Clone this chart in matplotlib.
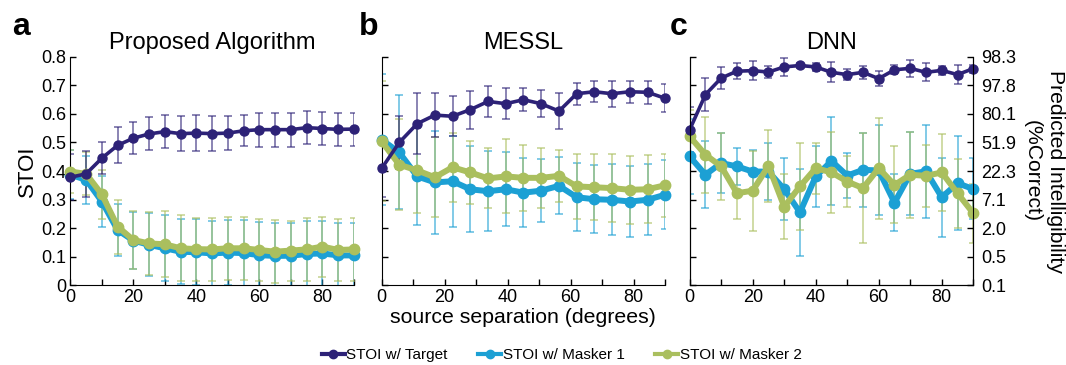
import numpy as np
import matplotlib
matplotlib.use('Agg')
import matplotlib.pyplot as plt
from matplotlib.ticker import MultipleLocator
from matplotlib.lines import Line2D

plt.rcParams['font.family'] = ['Liberation Sans', 'DejaVu Sans']

# Separación angular (grados)
x_ac = [0, 5, 10, 15, 20, 25, 30, 35, 40, 45, 50, 55, 60, 65, 70, 75, 80, 85, 90]
x_b = [0, 5.6, 11.3, 16.9, 22.5, 28.1, 33.8, 39.4, 45, 50.6, 56.3, 61.9, 67.5,
       73.1, 78.8, 84.4, 90]

# Panel a: Proposed Algorithm
a_target = [0.378, 0.39, 0.445, 0.49, 0.515, 0.53, 0.538, 0.531, 0.533, 0.531, 0.533,
            0.541, 0.545, 0.545, 0.545, 0.552, 0.549, 0.546, 0.547]
a_target_err = [0.08, 0.08, 0.055, 0.063, 0.057, 0.058, 0.057, 0.062, 0.063, 0.061, 0.06,
                0.055, 0.06, 0.06, 0.06, 0.058, 0.058, 0.059, 0.058]
a_m1 = [0.387, 0.369, 0.293, 0.193, 0.156, 0.141, 0.129, 0.117, 0.115, 0.111, 0.114,
        0.112, 0.105, 0.102, 0.103, 0.109, 0.111, 0.104, 0.104]
a_m1_err = [0.085, 0.085, 0.09, 0.09, 0.1, 0.11, 0.115, 0.115, 0.115, 0.115, 0.115,
            0.115, 0.115, 0.115, 0.115, 0.115, 0.115, 0.115, 0.115]
a_m2 = [0.398, 0.39, 0.318, 0.205, 0.158, 0.146, 0.143, 0.129, 0.126, 0.125, 0.129,
        0.129, 0.123, 0.117, 0.121, 0.125, 0.135, 0.123, 0.125]
a_m2_err = [0.075, 0.075, 0.085, 0.095, 0.1, 0.11, 0.115, 0.115, 0.11, 0.11, 0.11,
            0.11, 0.11, 0.11, 0.105, 0.11, 0.105, 0.11, 0.11]

# Panel b: MESSL
b_target = [0.409, 0.5, 0.566, 0.596, 0.592, 0.615, 0.644, 0.636, 0.65, 0.636, 0.61,
            0.671, 0.678, 0.671, 0.678, 0.676, 0.655]
b_target_err = [0.1, 0.094, 0.107, 0.076, 0.07, 0.067, 0.054, 0.055, 0.041, 0.048, 0.063,
                0.039, 0.036, 0.045, 0.039, 0.041, 0.049]
b_m1 = [0.51, 0.465, 0.381, 0.36, 0.364, 0.336, 0.329, 0.336, 0.324, 0.331, 0.348,
        0.308, 0.301, 0.299, 0.293, 0.299, 0.317]
b_m1_err = [0.23, 0.2, 0.17, 0.18, 0.16, 0.15, 0.14, 0.13, 0.12, 0.11, 0.1,
            0.12, 0.12, 0.125, 0.125, 0.125, 0.12]
b_m2 = [0.504, 0.422, 0.402, 0.378, 0.413, 0.395, 0.374, 0.381, 0.376, 0.376, 0.383,
        0.346, 0.343, 0.34, 0.334, 0.336, 0.35]
b_m2_err = [0.21, 0.16, 0.15, 0.14, 0.12, 0.11, 0.105, 0.13, 0.115, 0.105, 0.09,
            0.115, 0.115, 0.12, 0.12, 0.12, 0.11]

# Panel c: DNN
c_target = [0.545, 0.668, 0.726, 0.75, 0.752, 0.747, 0.765, 0.77, 0.765, 0.746, 0.738,
            0.746, 0.724, 0.755, 0.76, 0.746, 0.753, 0.738, 0.759]
c_target_err = [0.08, 0.057, 0.04, 0.028, 0.034, 0.02, 0.031, 0.01, 0.015, 0.035, 0.018,
                0.022, 0.026, 0.016, 0.029, 0.032, 0.015, 0.032, 0.014]
c_m1 = [0.451, 0.387, 0.428, 0.416, 0.398, 0.398, 0.336, 0.255, 0.381, 0.435, 0.384,
        0.404, 0.402, 0.289, 0.39, 0.399, 0.308, 0.357, 0.337]
c_m1_err = [0.13, 0.117, 0.105, 0.064, 0.076, 0.1, 0.108, 0.152, 0.107, 0.155, 0.08,
            0.129, 0.158, 0.1, 0.146, 0.164, 0.139, 0.164, 0.107]
c_m2 = [0.521, 0.457, 0.416, 0.322, 0.331, 0.418, 0.275, 0.346, 0.41, 0.395, 0.363,
        0.34, 0.41, 0.351, 0.387, 0.383, 0.395, 0.322, 0.252]
c_m2_err = [0.094, 0.134, 0.117, 0.09, 0.14, 0.126, 0.113, 0.153, 0.089, 0.142, 0.09,
            0.194, 0.177, 0.135, 0.151, 0.108, 0.136, 0.121, 0.104]

right_ticklabels = ['0.1', '0.5', '2.0', '7.1', '22.3', '51.9', '80.1', '97.8', '98.3']

titles = ['Proposed Algorithm', 'MESSL', 'DNN']
letters = ['a', 'b', 'c']
series_names = ['STOI w/ Target', 'STOI w/ Masker 1', 'STOI w/ Masker 2']

C_TARGET = '#2d2277'
C_M1 = '#1ca0d4'
C_M2 = '#aabf5e'

panels = [
    (x_ac, a_target, a_target_err, a_m1, a_m1_err, a_m2, a_m2_err),
    (x_b, b_target, b_target_err, b_m1, b_m1_err, b_m2, b_m2_err),
    (x_ac, c_target, c_target_err, c_m1, c_m1_err, c_m2, c_m2_err),
]

fig = plt.figure(figsize=(10.66, 3.65), dpi=100)
lefts = [0.066, 0.358, 0.647]
letter_x = [0.011, 0.337, 0.628]
width = 0.266
bottom, height = 0.219, 0.625

for i, (x, t, te, m1, m1e, m2, m2e) in enumerate(panels):
    ax = fig.add_axes([lefts[i], bottom, width, height])

    # barras de error (semitransparentes)
    for y, e, c in [(m1, m1e, C_M1), (m2, m2e, C_M2), (t, te, C_TARGET)]:
        ax.errorbar(x, y, yerr=e, fmt='none', ecolor=c, alpha=0.7,
                    elinewidth=1.1, capsize=3, capthick=1.1, zorder=2)
    # líneas
    ax.plot(x, m1, '-o', color=C_M1, lw=4.3, ms=7.5, zorder=3, clip_on=False)
    ax.plot(x, m2, '-o', color=C_M2, lw=4.3, ms=7.5, zorder=4, clip_on=False)
    ax.plot(x, t, '-o', color=C_TARGET, lw=2.6, ms=6.5, zorder=5, clip_on=False)

    ax.set_xlim(0, 90)
    ax.set_ylim(0, 0.8)
    ax.xaxis.set_major_locator(MultipleLocator(20))
    ax.xaxis.set_minor_locator(MultipleLocator(10))
    ax.yaxis.set_major_locator(MultipleLocator(0.1))
    ax.tick_params(direction='in', length=4, labelsize=13, width=1, pad=3)
    ax.tick_params(which='minor', direction='in', length=4, width=1)
    ax.spines['top'].set_visible(False)
    ax.spines['right'].set_visible(False)
    ax.yaxis.set_major_formatter(plt.FuncFormatter(lambda v, p: '0' if abs(v) < 1e-9 else f'{v:.1f}'))
    ax.set_title(titles[i], fontsize=17, pad=6)
    fig.text(letter_x[i], 0.904, letters[i], fontsize=23, fontweight='bold',
             va='baseline', ha='left')

    if i == 0:
        ax.set_ylabel('STOI', fontsize=16, labelpad=2)
    else:
        ax.set_yticklabels([])
    if i == 1:
        ax.set_xlabel('source separation (degrees)', fontsize=15.3, labelpad=1)
    if i == 2:
        ax.spines['right'].set_visible(True)
        ax2 = ax.twinx()
        ax2.set_ylim(0, 0.8)
        ax2.set_yticks(np.arange(0, 0.81, 0.1))
        ax2.set_yticklabels(right_ticklabels)
        ax2.tick_params(direction='in', length=4, labelsize=13, width=1, pad=6)
        ax2.spines['top'].set_visible(False)
        ax2.set_ylabel('Predicted Intelligibility\n(%Correct)', fontsize=15.2,
                       rotation=270, labelpad=35, linespacing=1.3)

handles = [Line2D([], [], color=C_TARGET, lw=3, marker='o', ms=6),
           Line2D([], [], color=C_M1, lw=3, marker='o', ms=6),
           Line2D([], [], color=C_M2, lw=3, marker='o', ms=6)]
fig.legend(handles, series_names, loc='center', bbox_to_anchor=(0.527, 0.027), ncol=3,
           frameon=False, fontsize=11, handlelength=1.5, handletextpad=0.1,
           columnspacing=2.0)

fig.savefig('out.png', dpi=100)
